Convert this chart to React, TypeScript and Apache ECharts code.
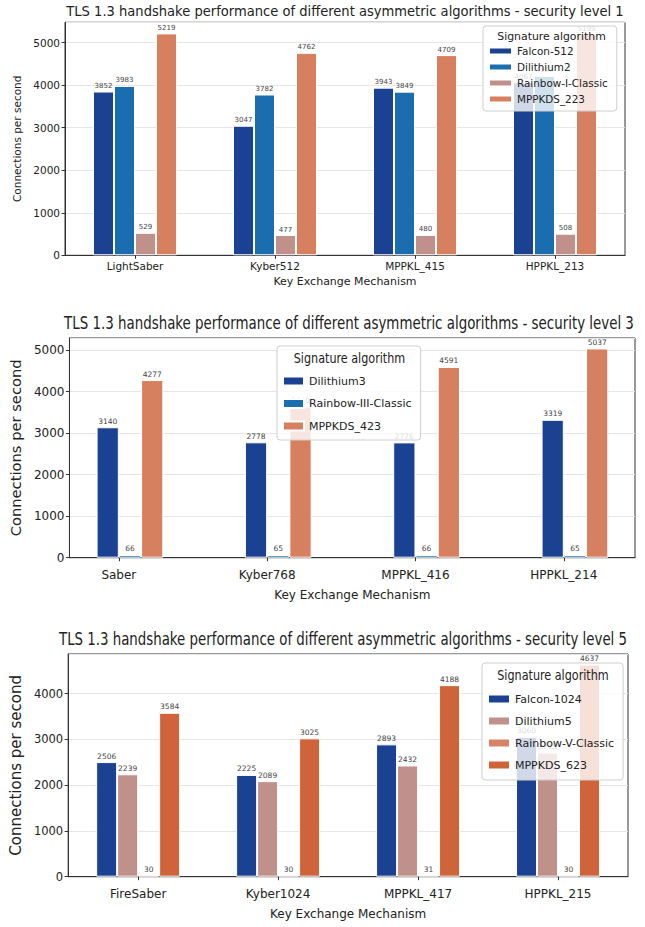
import React, { useEffect, useRef } from "react";
import * as echarts from "echarts";

const FONT = "DejaVu Sans";

// ---------- data ----------
const TITLES = [
  "TLS 1.3 handshake performance of different asymmetric algorithms - security level 1",
  "TLS 1.3 handshake performance of different asymmetric algorithms - security level 3",
  "TLS 1.3 handshake performance of different asymmetric algorithms - security level 5",
];
const X_NAME = "Key Exchange Mechanism";
const Y_NAME = "Connections per second";
const LEGEND_TITLE = "Signature algorithm";

const KEM_1 = ["LightSaber", "Kyber512", "MPPKL_415", "HPPKL_213"];
const SIG_1 = ["Falcon-512", "Dilithium2", "Rainbow-I-Classic", "MPPKDS_223"];
const FALCON_512 = [3852, 3047, 3943, 4067];
const DILITHIUM_2 = [3983, 3782, 3849, 4217];
const RAINBOW_I = [529, 477, 480, 508];
const MPPKDS_223 = [5219, 4762, 4709, 5199];

const KEM_3 = ["Saber", "Kyber768", "MPPKL_416", "HPPKL_214"];
const SIG_3 = ["Dilithium3", "Rainbow-III-Classic", "MPPKDS_423"];
const DILITHIUM_3 = [3140, 2778, 2776, 3319];
const RAINBOW_III = [66, 65, 66, 65];
const MPPKDS_423 = [4277, 3640, 4591, 5037];

const KEM_5 = ["FireSaber", "Kyber1024", "MPPKL_417", "HPPKL_215"];
const SIG_5 = ["Falcon-1024", "Dilithium5", "Rainbow-V-Classic", "MPPKDS_623"];
const FALCON_1024 = [2506, 2225, 2893, 3060];
const DILITHIUM_5 = [2239, 2089, 2432, 2715];
const RAINBOW_V = [30, 30, 31, 30];
const MPPKDS_623 = [3584, 3025, 4188, 4637];

const DATA_1 = [FALCON_512, DILITHIUM_2, RAINBOW_I, MPPKDS_223];
const DATA_3 = [DILITHIUM_3, RAINBOW_III, MPPKDS_423];
const DATA_5 = [FALCON_1024, DILITHIUM_5, RAINBOW_V, MPPKDS_623];

const COLORS_1 = ["#1b4292", "#1a6eaf", "#c0908a", "#d7805f"];
const COLORS_3 = ["#1b4292", "#1a6eaf", "#d7805f"];
const COLORS_5 = ["#1b4292", "#c0908a", "#d98366", "#cf6339"];

// ---------- helpers ----------
const ymax = (arrs: number[][]) => Math.max(...arrs.flat()) * 1.05;

const barLabel = (fs: number) => ({
  show: true,
  position: "top",
  distance: 2,
  fontSize: fs,
  fontFamily: FONT,
  color: "#444",
});

function makeBars(
  names: string[],
  data: number[][],
  colors: string[],
  idx: number,
  labelFs: number,
  asPairs: boolean
) {
  return names.map((name, i) => ({
    type: "bar",
    name,
    xAxisIndex: idx,
    yAxisIndex: idx,
    barWidth: "15%",
    barGap: "0%",
    data: asPairs ? data[i].map((v, j) => [j, v]) : data[i],
    itemStyle: { color: colors[i], borderColor: "#ffffff", borderWidth: 1 },
    label: {
      ...barLabel(labelFs),
      formatter: (p: any) => String(Array.isArray(p.value) ? p.value[1] : p.value),
    },
  }));
}

const GRIDS = [
  { left: 65, top: 22.3, width: 560, height: 233 },
  { left: 63, top: 338, width: 572, height: 219.7 },
  { left: 58, top: 654, width: 570, height: 222.7 },
];

function yAxis(idx: number, max: number, fs: number, nameFs: number, nameGap: number) {
  return {
    type: "value",
    gridIndex: idx,
    min: 0,
    max,
    interval: 1000,
    name: Y_NAME,
    nameLocation: "middle",
    nameGap,
    nameTextStyle: { fontSize: nameFs, fontFamily: FONT, color: "#222" },
    axisLine: { show: true, onZero: false, lineStyle: { color: "#333", width: 1 } },
    axisTick: { show: true, length: 3.5, lineStyle: { color: "#333" } },
    axisLabel: {
      fontSize: fs,
      fontFamily: FONT,
      color: "#222",
      margin: 5,
      showMaxLabel: false,
      formatter: (v: number) => String(Math.round(v)),
    },
    splitLine: { show: true, lineStyle: { color: "#e6e6e6", width: 1 } },
  };
}

function xCat(idx: number, cats: string[], fs: number, margin: number, nameFs: number, nameGap: number) {
  return {
    type: "category",
    gridIndex: idx,
    data: cats,
    name: X_NAME,
    nameLocation: "middle",
    nameGap,
    nameTextStyle: { fontSize: nameFs, fontFamily: FONT, color: "#222" },
    axisLine: { show: true, lineStyle: { color: "#333", width: 1 } },
    axisTick: { show: true, alignWithLabel: true, length: 3.5, lineStyle: { color: "#333" } },
    axisLabel: { fontSize: fs, fontFamily: FONT, color: "#222", margin, interval: 0 },
    splitLine: { show: false },
  };
}

function legend(
  data: string[],
  left: number,
  top: number,
  padding: number[],
  iw: number,
  ih: number,
  gap: number,
  fs: number,
  lh: number
) {
  return {
    orient: "vertical",
    left,
    top,
    padding,
    itemWidth: iw,
    itemHeight: ih,
    itemGap: gap,
    icon: "rect",
    selectedMode: false,
    data,
    textStyle: { fontSize: fs, lineHeight: lh, fontFamily: FONT, color: "#222" },
    backgroundColor: "rgba(255,255,255,0.8)",
    borderColor: "#cfcfcf",
    borderWidth: 1,
    borderRadius: 3,
    z: 6,
  };
}

function gText(text: string, x: number, y: number, fs: number, sy: number) {
  return {
    type: "text",
    x,
    y,
    scaleY: sy,
    z: 100,
    style: {
      text,
      fontSize: fs,
      fontFamily: FONT,
      fill: "#222",
      align: "center",
      verticalAlign: "middle",
    },
  };
}

const option: any = {
  animation: false,
  backgroundColor: "#ffffff",
  grid: GRIDS.map((g) => ({ ...g, show: true, borderColor: "#333", borderWidth: 1, containLabel: false })),
  xAxis: [
    xCat(0, KEM_1, 10.5, 5.5, 11, 21),
    {
      type: "value",
      gridIndex: 1,
      min: -0.333,
      max: 3.48,
      name: X_NAME,
      nameLocation: "middle",
      nameGap: 31,
      nameTextStyle: { fontSize: 12, fontFamily: FONT, color: "#222" },
      axisLine: { show: true, lineStyle: { color: "#333", width: 1 } },
      axisTick: { show: true, length: 3.5, customValues: [0, 1, 2, 3], lineStyle: { color: "#333" } },
      axisLabel: {
        fontSize: 12,
        fontFamily: FONT,
        color: "#222",
        margin: 11,
        customValues: [0, 1, 2, 3],
        formatter: (v: number) => KEM_3[Math.round(v)] ?? "",
      },
      splitLine: { show: false },
    },
    xCat(2, KEM_5, 12, 11, 12, 31),
  ],
  yAxis: [
    yAxis(0, ymax(DATA_1), 10.5, 10.5, 39),
    yAxis(1, ymax(DATA_3), 12, 14.7, 37),
    yAxis(2, ymax(DATA_5), 11.5, 15, 39),
  ],
  legend: [
    legend(SIG_1, 483, 26, [19, 9, 6, 5], 23, 7, 4, 10.4, 12),
    legend(SIG_3, 277, 346, [28, 9, 7, 5], 21, 9, 8.5, 11, 14),
    legend(SIG_5, 482, 663, [29, 9, 8, 5], 22, 9, 8, 11, 14),
  ],
  series: [
    ...makeBars(SIG_1, DATA_1, COLORS_1, 0, 7, false),
    {
      type: "bar",
      name: "pad",
      xAxisIndex: 1,
      yAxisIndex: 1,
      barWidth: "15%",
      barGap: "0%",
      data: [],
    },
    ...makeBars(SIG_3, DATA_3, COLORS_3, 1, 7.5, true),
    ...makeBars(SIG_5, DATA_5, COLORS_5, 2, 7.5, false),
  ],
  graphic: [
    gText(TITLES[0], 345, 11.7, 13.1, 1.05),
    gText(TITLES[1], 349, 323, 13.4, 1.38),
    gText(TITLES[2], 343, 639, 13.35, 1.37),
    gText(LEGEND_TITLE, 551.5, 36, 10.9, 1.0),
    gText(LEGEND_TITLE, 349.5, 358, 11.2, 1.3),
    gText(LEGEND_TITLE, 553, 675, 11.2, 1.3),
  ],
};

export default function App() {
  const ref = useRef<HTMLDivElement>(null);
  useEffect(() => {
    if (!ref.current) return;
    const chart = echarts.init(ref.current, undefined, { renderer: "svg", width: 645, height: 927 });
    chart.setOption(option);
    return () => chart.dispose();
  }, []);
  return (
    <div
      ref={ref}
      style={{ position: "absolute", left: 0, top: 0, width: 645, height: 927, background: "#fff" }}
    />
  );
}
